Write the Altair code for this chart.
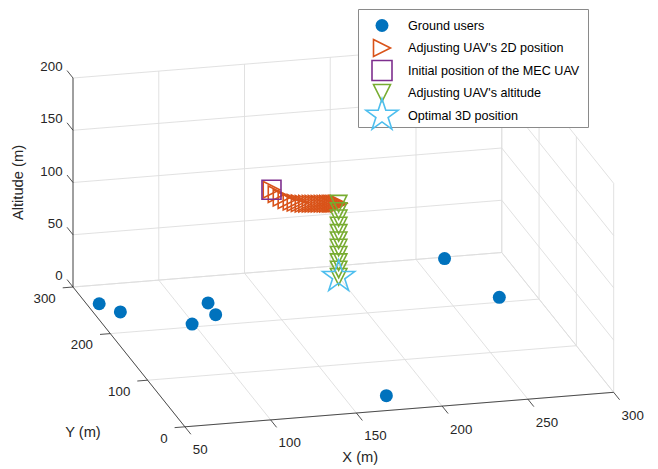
import altair as alt
import pandas as pd

# ---------------- data (metres) ----------------
# Ground users, all on the ground (altitude 0)
user_x = [57, 65, 117, 116, 99, 266, 279, 174]
user_y = [262, 242, 246, 221, 206, 297, 210, 30]

# UAV adjusting its 2D position at its initial altitude
uav2d_x = [146.4, 147.2, 148.4, 150.0, 152.1, 153.9, 155.9, 157.8, 159.8, 161.7, 163.3,
           165.0, 166.6, 168.3, 169.9, 171.3, 172.7, 173.7, 174.8, 176.0, 177.1]
uav2d_y = [211.1, 201.3, 193.4, 187.6, 183.7, 181.2, 179.4, 177.7, 177.3, 176.7, 176.2,
           175.7, 175.2, 174.8, 174.3, 173.9, 173.5, 173.2, 172.9, 172.6, 172.2]
uav2d_z = 120

# Initial position of the MEC UAV
init_pos = [146.4, 211.1, 120]

# UAV adjusting its altitude above the final 2D position
alt_xy = [177.1, 172.2]
alt_z = [120, 113, 106, 99, 92, 85, 78, 71, 64, 57, 50]

# Optimal 3D position
opt_pos = [177.1, 172.2, 50]

x_ticks = [50, 100, 150, 200, 250, 300]
y_ticks = [0, 100, 200, 300]
z_ticks = [0, 50, 100, 150, 200]

legend_labels = ["Ground users", "Adjusting UAV's 2D position",
                 "Initial position of the MEC UAV", "Adjusting UAV's altitude",
                 "Optimal 3D position"]

# ---------------- layout / style ----------------
W, H = 642, 458
FONT = "Liberation Sans"
AX_COLOR = "#262626"
GRID_COLOR = "#dedede"
C_USER = "#0072BD"
C_2D = "#D95319"
C_INIT = "#7E2F8E"
C_ALT = "#77AC30"
C_OPT = "#4DBEEE"

TRI_RIGHT = "M-1,-1L1,0L-1,1Z"
TRI_DOWN = "M-1,-1L1,-1L0,1Z"
STAR = ("M0,-1L0.2245,-0.309L0.951,-0.309L0.3633,0.118L0.588,0.809L0,0.382"
        "L-0.588,0.809L-0.3633,0.118L-0.951,-0.309L-0.2245,-0.309Z")

# orthographic view projection (plot-area pixel coordinates)
ORIGIN = (65.0, 279.0)          # where (x=50, y=300, z=0) lands
EX = (1.715, -0.138)            # per metre of x
EY = (-0.373, -0.466)           # per metre of y
EZ = (0.0, -1.045)              # per metre of z
X0, X1 = x_ticks[0], x_ticks[-1]
Y0, Y1 = y_ticks[0], y_ticks[-1]
Z0, Z1 = z_ticks[0], z_ticks[-1]


def proj(x, y, z):
    dx, dy, dz = x - X0, y - Y1, z - Z0
    u = ORIGIN[0] + EX[0] * dx + EY[0] * dy + EZ[0] * dz
    v = ORIGIN[1] + EX[1] * dx + EY[1] * dy + EZ[1] * dz
    return u, v


def seg(p, q):
    u1, v1 = proj(*p)
    u2, v2 = proj(*q)
    return dict(u=u1, v=v1, u2=u2, v2=v2)


def pts(xs, ys, zs):
    rows = []
    for x, y, z in zip(xs, ys, zs):
        u, v = proj(x, y, z)
        rows.append(dict(u=u, v=v, x=x, y=y, z=z))
    return pd.DataFrame(rows)


XS = alt.Scale(domain=[0, W])
YS = alt.Scale(domain=[0, H], reverse=True)
ux = alt.X("u:Q", scale=XS, axis=None)
vy = alt.Y("v:Q", scale=YS, axis=None)

# ---------------- grid ----------------
grid = []
for xt in x_ticks:
    grid.append(seg((xt, Y0, Z0), (xt, Y1, Z0)))
    grid.append(seg((xt, Y1, Z0), (xt, Y1, Z1)))
for yt in y_ticks:
    grid.append(seg((X0, yt, Z0), (X1, yt, Z0)))
    grid.append(seg((X1, yt, Z0), (X1, yt, Z1)))
for zt in z_ticks:
    grid.append(seg((X0, Y1, zt), (X1, Y1, zt)))
    grid.append(seg((X1, Y0, zt), (X1, Y1, zt)))
grid_layer = alt.Chart(pd.DataFrame(grid)).mark_rule(
    color=GRID_COLOR, strokeWidth=0.9).encode(x=ux, y=vy, x2="u2:Q", y2="v2:Q")

# ---------------- axes ----------------
axes = [seg((X0, Y0, Z0), (X1, Y0, Z0)),
        seg((X0, Y0, Z0), (X0, Y1, Z0)),
        seg((X0, Y1, Z0), (X0, Y1, Z1))]
xt_rows, yt_rows, zt_rows = [], [], []
for xt in x_ticks:
    axes.append(seg((xt, Y0, Z0), (xt, Y0 - 16, Z0)))
    u, v = proj(xt, Y0 - 16, Z0)
    xt_rows.append(dict(u=u, v=v, t=str(xt)))
for yt in y_ticks:
    axes.append(seg((X0, yt, Z0), (X0 - 6, yt, Z0)))
    u, v = proj(X0 - 6, yt, Z0)
    yt_rows.append(dict(u=u, v=v, t=str(yt)))
for zt in z_ticks:
    axes.append(seg((X0, Y1, zt), (X0, Y1 + 16, zt)))
    u, v = proj(X0, Y1 + 16, zt)
    zt_rows.append(dict(u=u, v=v, t=str(zt)))
axis_layer = alt.Chart(pd.DataFrame(axes)).mark_rule(
    color=AX_COLOR, strokeWidth=0.8).encode(x=ux, y=vy, x2="u2:Q", y2="v2:Q")

tick_font = dict(font=FONT, fontSize=13.3, color=AX_COLOR, baseline="middle")
xlab = alt.Chart(pd.DataFrame(xt_rows)).mark_text(align="left", dx=2, dy=16, **tick_font).encode(
    x=ux, y=vy, text="t:N")
ylab = alt.Chart(pd.DataFrame(yt_rows)).mark_text(align="right", dx=-7, dy=11, **tick_font).encode(
    x=ux, y=vy, text="t:N")
zlab = alt.Chart(pd.DataFrame(zt_rows)).mark_text(align="right", dx=-4.5, dy=-3.5, **tick_font).encode(
    x=ux, y=vy, text="t:N")

title_font = dict(font=FONT, fontSize=14.7, color=AX_COLOR, baseline="middle", align="center")
u, v = proj(X0, Y1, (Z0 + Z1) / 2)
ztitle = alt.Chart(pd.DataFrame([dict(u=u, v=v, t="Altitude (m)")])).mark_text(
    angle=270, dx=0, dy=-54, **title_font).encode(x=ux, y=vy, text="t:N")
u, v = proj(X0, (Y0 + Y1) / 2, Z0)
ytitle = alt.Chart(pd.DataFrame([dict(u=u, v=v, t="Y (m)")])).mark_text(
    dx=-46, dy=76, **title_font).encode(x=ux, y=vy, text="t:N")
u, v = proj((X0 + X1) / 2, Y0, Z0)
xtitle = alt.Chart(pd.DataFrame([dict(u=u, v=v, t="X (m)")])).mark_text(
    dx=-39, dy=48, **title_font).encode(x=ux, y=vy, text="t:N")

# ---------------- data marks ----------------
users = pts(user_x, user_y, [0] * len(user_x))
uav2d = pts(uav2d_x, uav2d_y, [uav2d_z] * len(uav2d_x))
init = pts([init_pos[0]], [init_pos[1]], [init_pos[2]])
altd = pts([alt_xy[0]] * len(alt_z), [alt_xy[1]] * len(alt_z), alt_z)
opt = pts([opt_pos[0]], [opt_pos[1]], [opt_pos[2]])

SW = 1.6
users_layer = alt.Chart(users).mark_point(
    shape="circle", filled=True, size=169, color=C_USER, opacity=1).encode(x=ux, y=vy)
uav2d_layer = alt.Chart(uav2d).mark_point(
    shape=TRI_RIGHT, filled=False, size=272, color=C_2D, strokeWidth=SW, opacity=1).encode(x=ux, y=vy)
init_layer = alt.Chart(init).mark_point(
    shape="square", filled=False, size=361, color=C_INIT, strokeWidth=SW, opacity=1).encode(x=ux, y=vy)
alt_layer = alt.Chart(altd).mark_point(
    shape=TRI_DOWN, filled=False, size=272, color=C_ALT, strokeWidth=SW, opacity=1).encode(x=ux, y=vy)
opt_layer = alt.Chart(opt).mark_point(
    shape=STAR, filled=False, size=1130, color=C_OPT, strokeWidth=SW, opacity=1).encode(x=ux, y=vy)

# ---------------- legend (drawn) ----------------
LEG_L, LEG_T, LEG_R, LEG_B = 350.5, 1.5, 580.5, 119.5
SYM_U, TXT_U, ROW0, ROW_STEP = 374, 400, 17.5, 22.5
leg_box = alt.Chart(pd.DataFrame([dict(u=LEG_L, v=LEG_T, u2=LEG_R, v2=LEG_B)])).mark_rect(
    fill="white", stroke="#8a8a8a", strokeWidth=1).encode(x=ux, y=vy, x2="u2:Q", y2="v2:Q")

leg_specs = [
    dict(shape="circle", filled=True, size=169, color=C_USER),
    dict(shape=TRI_RIGHT, filled=False, size=289, color=C_2D, strokeWidth=SW),
    dict(shape="square", filled=False, size=400, color=C_INIT, strokeWidth=SW),
    dict(shape=TRI_DOWN, filled=False, size=289, color=C_ALT, strokeWidth=SW),
    dict(shape=STAR, filled=False, size=1130, color=C_OPT, strokeWidth=SW),
]
leg_layers = []
leg_text_rows = []
for i, (lab, spec) in enumerate(zip(legend_labels, leg_specs)):
    rowv = ROW0 + i * ROW_STEP
    leg_layers.append(alt.Chart(pd.DataFrame([dict(u=SYM_U, v=rowv, label=lab)])).mark_point(
        opacity=1, **spec).encode(x=ux, y=vy))
    leg_text_rows.append(dict(u=TXT_U, v=rowv, t=lab))
leg_text = alt.Chart(pd.DataFrame(leg_text_rows)).mark_text(
    align="left", baseline="middle", font=FONT, fontSize=12.6, color="#000000").encode(
    x=ux, y=vy, text="t:N")

chart = alt.layer(
    grid_layer, axis_layer, xlab, ylab, zlab, ztitle, ytitle, xtitle,
    users_layer, uav2d_layer, init_layer, alt_layer, opt_layer,
    leg_box, *leg_layers, leg_text,
).properties(
    width=W, height=H, padding=0,
    autosize=alt.AutoSizeParams(type="none"),
    background="white",
).configure_view(strokeWidth=0)

chart.save("out.html", embed_options={"renderer": "svg", "actions": False})
